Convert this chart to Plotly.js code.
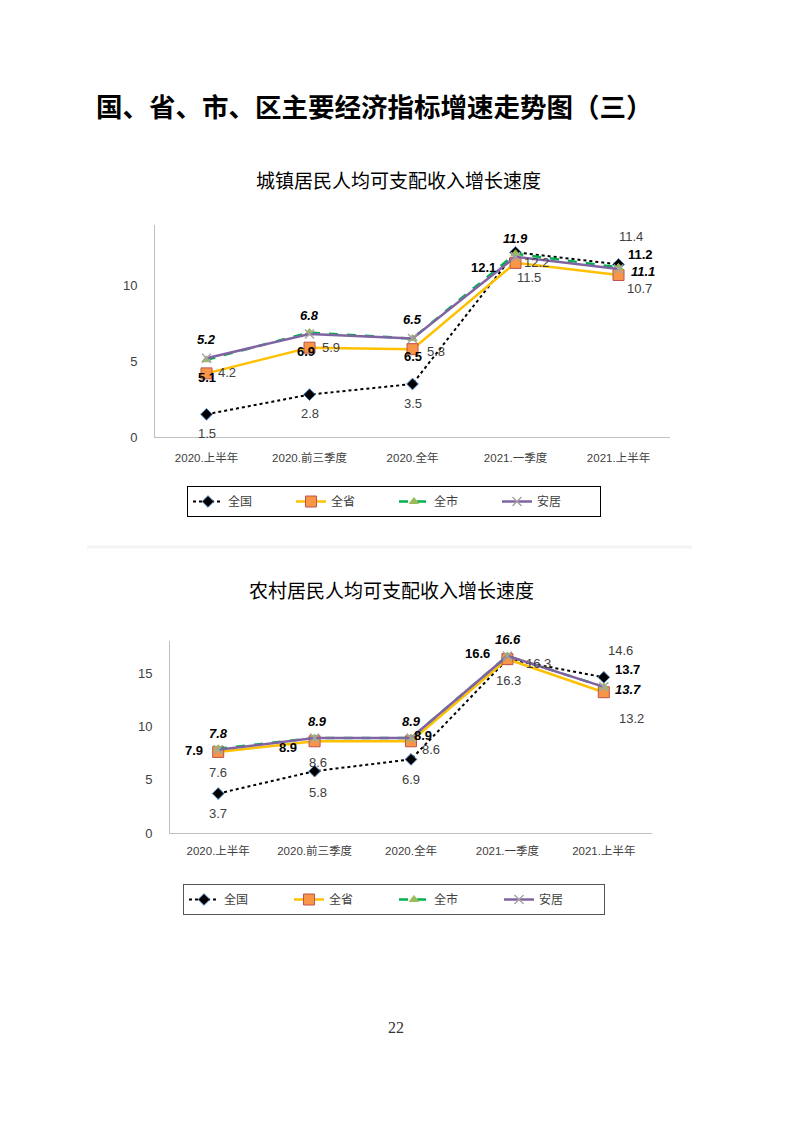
<!DOCTYPE html>
<html>
<head>
<meta charset="utf-8">
<script src="https://cdn.plot.ly/plotly-3.0.1.min.js"></script>
<style>html,body{margin:0;padding:0;background:#fff;}#chart{width:793px;height:1122px;}</style>
</head>
<body>
<div id="chart"></div>
<script>
// ---- data ----
const categories = ["2020.上半年", "2020.前三季度", "2020.全年", "2021.一季度", "2021.上半年"];
const seriesNames = ["全国", "全省", "全市", "安居"];

// 城镇居民人均可支配收入增长速度
const urbanNation = [1.5, 2.8, 3.5, 12.2, 11.4];
const urbanProvince = [4.2, 5.9, 5.8, 11.5, 10.7];
const urbanCity = [5.1, 6.9, 6.5, 12.1, 11.2];
const urbanAnju = [5.2, 6.8, 6.5, 11.9, 11.1];

// 农村居民人均可支配收入增长速度
const ruralNation = [3.7, 5.8, 6.9, 16.3, 14.6];
const ruralProvince = [7.6, 8.6, 8.6, 16.3, 13.2];
const ruralCity = [7.9, 8.9, 8.9, 16.6, 13.7];
const ruralAnju = [7.8, 8.9, 8.9, 16.6, 13.7];

const yTicks1 = [0, 5, 10];
const yTicks2 = [0, 5, 10, 15];

// ---- styles ----
const W = 793, H = 1122;
const LF = "Liberation Sans, Arial, sans-serif";
const CJK = "Noto Sans CJK SC, sans-serif";

function makeTraces(vals, xa, ya, legendId, showLeg) {
  const styles = [
    {line: {color: "#000000", width: 2, dash: "dot"}, marker: {symbol: "diamond", size: 9, color: "#000000", line: {color: "#4F81BD", width: 1}}},
    {line: {color: "#FFC000", width: 2.5}, marker: {symbol: "square", size: 11, color: "#F79646", line: {color: "#C0504D", width: 1}}},
    {line: {color: "#00B050", width: 2.5, dash: "dash"}, marker: {symbol: "triangle-up", size: 8, color: "#9BBB59", line: {color: "#9BBB59", width: 1}}},
    {line: {color: "#8064A2", width: 2.5}, marker: {symbol: "x-thin", size: 9, color: "#8064A2", line: {color: "#A6A6A6", width: 1.5}}}
  ];
  return vals.map((v, i) => ({
    type: "scatter", mode: "lines+markers",
    x: categories, y: v, name: seriesNames[i],
    xaxis: xa, yaxis: ya, legend: legendId, showlegend: showLeg,
    line: styles[i].line, marker: styles[i].marker,
    hoverinfo: "skip"
  }));
}

const traces = [].concat(
  makeTraces([urbanNation, urbanProvince, urbanCity, urbanAnju], "x", "y", "legend", true),
  makeTraces([ruralNation, ruralProvince, ruralCity, ruralAnju], "x2", "y2", "legend2", true)
);

const ann = [];
function lab(xa, ya, vals, idx, dx, dy, st) {
  const v = vals[idx];
  ann.push({
    xref: xa, yref: ya, x: categories[idx], y: v,
    text: st === "bi" ? "<b><i>" + v.toFixed(1) + "</i></b>" : st === "b" ? "<b>" + v.toFixed(1) + "</b>" : v.toFixed(1),
    showarrow: false, xshift: dx, yshift: dy,
    font: {family: LF, size: 13, color: st === "g" ? "#404040" : "#000000"}
  });
}
// urban
[[0,0,19],[1,0,19],[2,0,19],[3,0,18],[4,24,-3]].forEach(a => lab("x","y",urbanAnju,a[0],a[1],a[2],"bi"));
[[0,0,-18],[1,-4,-19],[2,0,-18],[3,-32,-14],[4,22,13]].forEach(a => lab("x","y",urbanCity,a[0],a[1],a[2],"b"));
[[0,20,1],[1,21,0],[2,23,-2],[3,13,-15],[4,21,-14]].forEach(a => lab("x","y",urbanProvince,a[0],a[1],a[2],"g"));
[[0,0,-19],[1,0,-19],[2,0,-19],[3,21,-10],[4,12,28]].forEach(a => lab("x","y",urbanNation,a[0],a[1],a[2],"g"));
// rural
[[0,0,16],[1,3,17],[2,0,17],[3,1,16],[4,24,-3]].forEach(a => lab("x2","y2",ruralAnju,a[0],a[1],a[2],"bi"));
[[0,-24,-2],[1,-27,-9],[2,12,3],[3,-30,2],[4,24,17]].forEach(a => lab("x2","y2",ruralCity,a[0],a[1],a[2],"b"));
[[0,0,-21],[1,3,-21],[2,20,-8],[3,1,-21],[4,28,-26]].forEach(a => lab("x2","y2",ruralProvince,a[0],a[1],a[2],"g"));
[[0,0,-20],[1,3,-21],[2,0,-20],[3,31,-4],[4,17,27]].forEach(a => lab("x2","y2",ruralNation,a[0],a[1],a[2],"g"));

// page texts
ann.push({xref:"paper", yref:"paper", x: 94/W, y: 1 - 105/H, xanchor:"left", yanchor:"middle", showarrow:false,
  text:"<b>国、省、市、区主要经济指标增速走势图（三）</b>", font:{family:CJK, size:26.5, color:"#000"}});
ann.push({xref:"paper", yref:"paper", x: 398/W, y: 1 - 180/H, xanchor:"center", yanchor:"middle", showarrow:false,
  text:"城镇居民人均可支配收入增长速度", font:{family:CJK, size:19, color:"#000"}});
ann.push({xref:"paper", yref:"paper", x: 391/W, y: 1 - 589/H, xanchor:"center", yanchor:"middle", showarrow:false,
  text:"农村居民人均可支配收入增长速度", font:{family:CJK, size:19, color:"#000"}});
ann.push({xref:"paper", yref:"paper", x: 396/W, y: 1 - 1027/H, xanchor:"center", yanchor:"middle", showarrow:false,
  text:"22", font:{family:"Liberation Serif, serif", size:16, color:"#333"}});

const axisCommon = {
  type: "category", range: [-0.5, 4.5], showgrid: false, zeroline: false,
  showline: true, linecolor: "#BFBFBF", linewidth: 1, ticks: "",
  tickfont: {family: LF + ", " + CJK, size: 11.5, color: "#404040"}, fixedrange: true
};
const yCommon = {
  showgrid: false, zeroline: false, showline: true, linecolor: "#BFBFBF", linewidth: 1,
  ticks: "", tickfont: {family: LF, size: 13, color: "#404040"}, fixedrange: true
};

const layout = {
  width: W, height: H, margin: {l: 0, r: 0, t: 0, b: 0},
  paper_bgcolor: "#fff", plot_bgcolor: "#fff", showlegend: true,
  xaxis: Object.assign({}, axisCommon, {domain: [155/W, 670/W], anchor: "y", ticklabelstandoff: 10}),
  yaxis: Object.assign({}, yCommon, {domain: [1 - 437/H, 1 - 225/H], range: [0, 14], tickvals: yTicks1, ticklabelstandoff: 14, anchor: "x"}),
  xaxis2: Object.assign({}, axisCommon, {domain: [170/W, 652/W], anchor: "y2", ticklabelstandoff: 7}),
  yaxis2: Object.assign({}, yCommon, {domain: [1 - 833/H, 1 - 641/H], range: [0, 18], tickvals: yTicks2, ticklabelstandoff: 14, anchor: "x2"}),
  legend: {orientation: "h", x: 187/W, y: 1 - 486/H, xanchor: "left", yanchor: "top",
    bordercolor: "#000", borderwidth: 1, bgcolor: "#fff", entrywidth: 58,
    font: {family: CJK, size: 12, color: "#404040"}, itemclick: false, itemdoubleclick: false},
  legend2: {orientation: "h", x: 183/W, y: 1 - 884/H, xanchor: "left", yanchor: "top",
    bordercolor: "#555", borderwidth: 1, bgcolor: "#fff", entrywidth: 60,
    font: {family: CJK, size: 12, color: "#404040"}, itemclick: false, itemdoubleclick: false},
  shapes: [{type: "line", xref: "paper", yref: "paper", x0: 87/W, x1: 692/W, y0: 1 - 547/H, y1: 1 - 547/H,
    line: {color: "#F4F4F4", width: 3}}],
  annotations: ann
};

Plotly.newPlot("chart", traces, layout, {displayModeBar: false, staticPlot: true});
</script>
</body>
</html>
